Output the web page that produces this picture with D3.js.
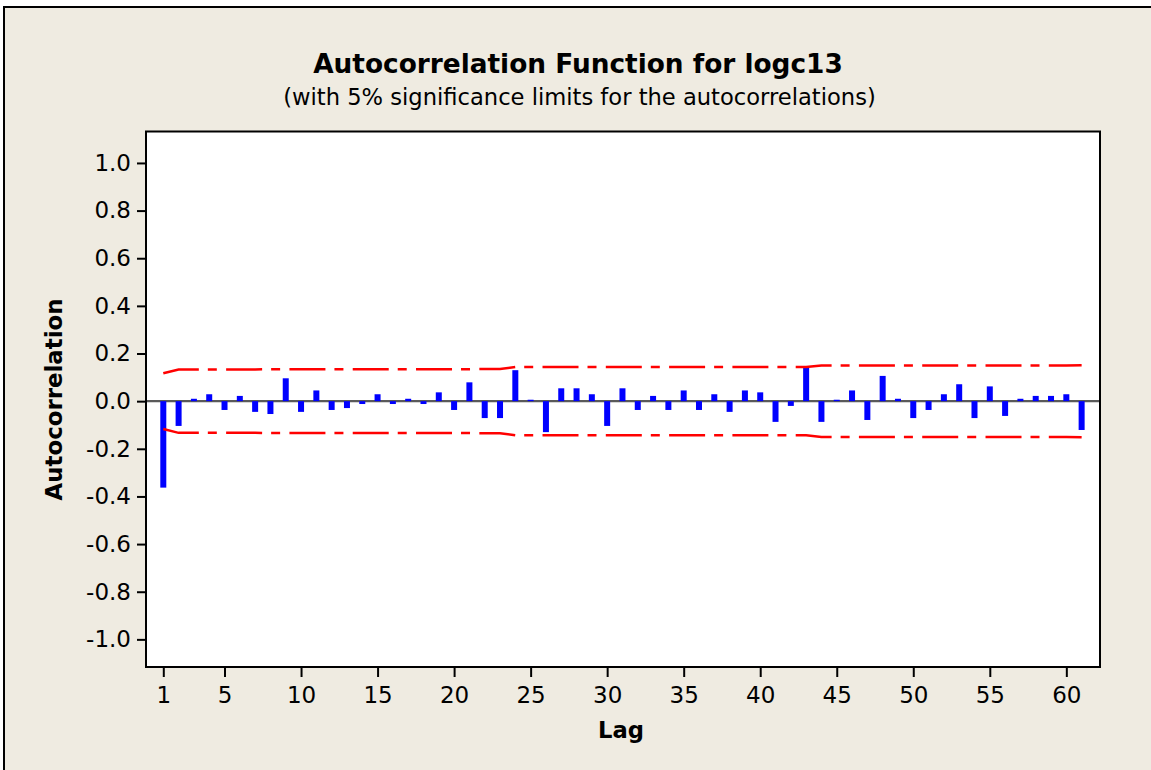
<!DOCTYPE html>
<html>
<head>
<meta charset="utf-8">
<script src="https://cdn.jsdelivr.net/npm/d3@7/dist/d3.min.js"></script>
<style>
html,body{margin:0;padding:0;background:#fff;}
svg{display:block;}
</style>
</head>
<body>
<svg id="chart" width="1151" height="770"></svg>
<script>
const lags = d3.range(1, 62);
const acf = [
  -0.363, -0.104, 0.010, 0.029, -0.037, 0.022, -0.045, -0.054, 0.096, -0.045,
  0.045, -0.037, -0.029, -0.012, 0.029, -0.012, 0.010, -0.012, 0.037, -0.037,
  0.079, -0.071, -0.071, 0.130, 0.006, -0.130, 0.054, 0.054, 0.029, -0.104,
  0.054, -0.037, 0.022, -0.037, 0.045, -0.037, 0.029, -0.045, 0.045, 0.037,
  -0.087, -0.020, 0.143, -0.087, 0.006, 0.045, -0.079, 0.106, 0.010, -0.071,
  -0.037, 0.029, 0.071, -0.071, 0.062, -0.062, 0.010, 0.022, 0.022, 0.029,
  -0.121
];
const limit = [
  0.117, 0.133, 0.133, 0.133, 0.133, 0.133, 0.133, 0.134, 0.134, 0.134,
  0.134, 0.134, 0.134, 0.134, 0.134, 0.134, 0.134, 0.134, 0.134, 0.134,
  0.134, 0.135, 0.135, 0.143, 0.143, 0.143, 0.143, 0.143, 0.143, 0.143,
  0.143, 0.143, 0.143, 0.143, 0.143, 0.143, 0.143, 0.143, 0.143, 0.143,
  0.143, 0.143, 0.143, 0.150, 0.150, 0.150, 0.150, 0.150, 0.150, 0.150,
  0.150, 0.150, 0.150, 0.150, 0.150, 0.150, 0.150, 0.150, 0.150, 0.150,
  0.151
];
const xTicks = [1, 5, 10, 15, 20, 25, 30, 35, 40, 45, 50, 55, 60];
const yTicks = [-1.0, -0.8, -0.6, -0.4, -0.2, 0.0, 0.2, 0.4, 0.6, 0.8, 1.0];
const title = "Autocorrelation Function for logc13";
const subtitle = "(with 5% significance limits for the autocorrelations)";
const xLabel = "Lag";
const yLabel = "Autocorrelation";

const FONT = "'DejaVu Sans', Verdana, sans-serif";
const svg = d3.select("#chart");
const L = 146, R = 1100, T = 131.5, B = 667;

// background / outer frame
svg.append("rect").attr("x", 0).attr("y", 0).attr("width", 1151).attr("height", 770).attr("fill", "#ffffff");
svg.append("rect").attr("x", 4).attr("y", 7).attr("width", 1151).attr("height", 770).attr("fill", "#EFEBE1");
svg.append("path").attr("d", `M4,770 V7 H1151`).attr("fill", "none").attr("stroke", "#000").attr("stroke-width", 2);

const x = d3.scaleLinear().domain([-0.13, 62.2]).range([L, R]);
const y = d3.scaleLinear().domain([-1.116, 1.132]).range([B, T]);

// plot area
svg.append("rect").attr("x", L).attr("y", T).attr("width", R - L).attr("height", B - T).attr("fill", "#fff");

// zero line
svg.append("line").attr("x1", L).attr("x2", R).attr("y1", y(0)).attr("y2", y(0))
  .attr("stroke", "#5a5a5a").attr("stroke-width", 2.2);

// bars
const bw = 6;
svg.append("g").selectAll("rect").data(lags).join("rect")
  .attr("x", d => x(d) - bw / 2)
  .attr("width", bw)
  .attr("y", (d, i) => Math.min(y(acf[i]), y(0)))
  .attr("height", (d, i) => Math.abs(y(acf[i]) - y(0)))
  .attr("fill", "#0000FF");

// significance limits
const line = d3.line().x(d => x(d[0])).y(d => y(d[1]));
const upper = lags.map((d, i) => [d, limit[i]]);
const lower = lags.map((d, i) => [d, -limit[i]]);
[upper, lower].forEach(pts => {
  svg.append("path").attr("d", line(pts)).attr("fill", "none")
    .attr("stroke", "#FF0000").attr("stroke-width", 2.5)
    .attr("stroke-dasharray", "36,9,9,9.3");
});

// frame
svg.append("rect").attr("x", L).attr("y", T).attr("width", R - L).attr("height", B - T)
  .attr("fill", "none").attr("stroke", "#000").attr("stroke-width", 2);

// axes
const xAxis = d3.axisBottom(x).tickValues(xTicks).tickSize(10).tickPadding(10).tickFormat(d3.format("d"));
const gx = svg.append("g").attr("transform", `translate(0,${B})`).call(xAxis);
gx.select(".domain").remove();
gx.selectAll("line").attr("stroke", "#000").attr("stroke-width", 2);
gx.selectAll("text").attr("font-family", FONT).attr("font-size", 23).attr("fill", "#000");

const fmtY = d => d3.format(".1f")(d).replace("\u2212", "-");
const yAxis = d3.axisLeft(y).tickValues(yTicks).tickSize(9).tickPadding(6).tickFormat(fmtY);
const gy = svg.append("g").attr("transform", `translate(${L},0)`).call(yAxis);
gy.select(".domain").remove();
gy.selectAll("line").attr("stroke", "#000").attr("stroke-width", 2);
gy.selectAll("text").attr("font-family", FONT).attr("font-size", 23).attr("fill", "#000");

function fitText(sel, target) {
  const w = sel.node().getComputedTextLength();
  const fs = parseFloat(sel.attr("font-size"));
  sel.attr("font-size", fs * target / w);
}

const t1 = svg.append("text").attr("x", 578).attr("y", 73).attr("text-anchor", "middle")
  .attr("font-family", FONT).attr("font-weight", "bold").attr("font-size", 26).text(title);
fitText(t1, 530);
const t2 = svg.append("text").attr("x", 579.5).attr("y", 105).attr("text-anchor", "middle")
  .attr("font-family", FONT).attr("font-size", 20).text(subtitle);
fitText(t2, 593);
const xl = svg.append("text").attr("x", 621).attr("y", 738).attr("text-anchor", "middle")
  .attr("font-family", FONT).attr("font-weight", "bold").attr("font-size", 24).text(xLabel);
fitText(xl, 46);
const yl = svg.append("text").attr("transform", `translate(62,399.5) rotate(-90)`).attr("text-anchor", "middle")
  .attr("font-family", FONT).attr("font-weight", "bold").attr("font-size", 22).text(yLabel);
fitText(yl, 202);
</script>
</body>
</html>
